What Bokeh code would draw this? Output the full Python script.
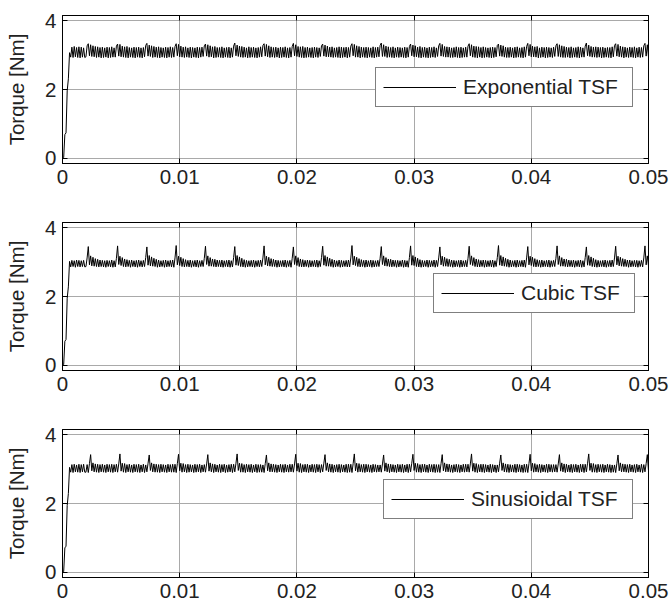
from bokeh.plotting import figure
from bokeh.layouts import column
from bokeh.models import FixedTicker, Range1d, LinearAxis, Legend, LegendItem
from bokeh.embed import file_html
from bokeh.resources import INLINE

# ---------------- data ----------------
dt = 0.0001  # sample spacing [s]
x_ticks = [0, 0.01, 0.02, 0.03, 0.04, 0.05]
x_tick_labels = ["0", "0.01", "0.02", "0.03", "0.04", "0.05"]
y_ticks = [0, 2, 4]
y_tick_labels = ["0", "2", "4"]
series_names = ["Exponential TSF", "Cubic TSF", "Sinusioidal TSF"]

exp_torque = [
    0.00, 0.02, 0.69, 0.74, 1.96, 2.31, 3.07, 2.94, 3.23, 2.93, 3.25, 2.95, 3.22, 2.93, 3.24, 2.92, 3.23, 2.94, 3.21, 2.93,
    2.95, 3.27, 3.33, 2.98, 3.30, 2.96, 3.27, 2.95, 3.25, 2.93, 3.24, 2.94, 3.22, 2.92, 3.23, 2.93, 3.21, 2.94, 3.23, 2.92, 3.22, 2.93, 3.24, 2.94, 3.21,
    2.94, 3.26, 3.32, 2.97, 3.31, 2.95, 3.26, 2.94, 3.24, 2.93, 3.25, 2.92, 3.22, 2.94, 3.21, 2.93, 3.23, 2.92, 3.22, 2.94, 3.23, 2.93, 3.21, 2.92, 3.22,
    2.95, 3.28, 3.34, 2.97, 3.29, 2.96, 3.27, 2.93, 3.25, 2.94, 3.23, 2.93, 3.24, 2.92, 3.22, 2.94, 3.21, 2.93, 3.23, 2.92, 3.22, 2.94, 3.24, 2.93, 3.22,
    2.94, 3.25, 3.33, 2.98, 3.31, 2.95, 3.26, 2.94, 3.23, 2.93, 3.24, 2.94, 3.21, 2.93, 3.23, 2.92, 3.22, 2.94, 3.21, 2.93, 3.23, 2.92, 3.22, 2.94, 3.23,
    2.96, 3.27, 3.32, 2.97, 3.30, 2.94, 3.27, 2.95, 3.24, 2.92, 3.25, 2.93, 3.22, 2.94, 3.22, 2.93, 3.24, 2.92, 3.21, 2.94, 3.22, 2.93, 3.23, 2.92, 3.21,
    2.94, 3.26, 3.35, 2.98, 3.29, 2.96, 3.26, 2.94, 3.25, 2.93, 3.23, 2.94, 3.21, 2.92, 3.24, 2.93, 3.22, 2.94, 3.23, 2.93, 3.21, 2.92, 3.22, 2.94, 3.24,
    2.95, 3.28, 3.33, 2.97, 3.31, 2.95, 3.27, 2.93, 3.24, 2.94, 3.22, 2.93, 3.23, 2.94, 3.21, 2.92, 3.23, 2.93, 3.22, 2.94, 3.24, 2.93, 3.21, 2.92, 3.22,
    2.94, 3.25, 3.34, 2.98, 3.30, 2.96, 3.25, 2.94, 3.24, 2.93, 3.25, 2.92, 3.22, 2.93, 3.23, 2.94, 3.21, 2.93, 3.22, 2.92, 3.23, 2.94, 3.22, 2.93, 3.21,
    2.96, 3.27, 3.32, 2.97, 3.29, 2.95, 3.26, 2.95, 3.23, 2.94, 3.24, 2.93, 3.21, 2.94, 3.22, 2.93, 3.24, 2.92, 3.23, 2.93, 3.22, 2.94, 3.23, 2.92, 3.22,
    2.94, 3.26, 3.33, 2.98, 3.31, 2.94, 3.27, 2.94, 3.25, 2.92, 3.23, 2.94, 3.22, 2.93, 3.23, 2.92, 3.22, 2.94, 3.21, 2.93, 3.24, 2.92, 3.22, 2.94, 3.23,
    2.95, 3.28, 3.35, 2.96, 3.30, 2.96, 3.26, 2.93, 3.24, 2.94, 3.22, 2.93, 3.24, 2.92, 3.21, 2.94, 3.23, 2.93, 3.22, 2.94, 3.21, 2.93, 3.23, 2.92, 3.22,
    2.94, 3.25, 3.32, 2.98, 3.29, 2.95, 3.27, 2.95, 3.23, 2.93, 3.25, 2.92, 3.22, 2.94, 3.23, 2.93, 3.21, 2.92, 3.23, 2.93, 3.22, 2.94, 3.24, 2.93, 3.21,
    2.96, 3.27, 3.34, 2.97, 3.31, 2.96, 3.25, 2.94, 3.24, 2.94, 3.23, 2.93, 3.21, 2.93, 3.22, 2.94, 3.24, 2.93, 3.22, 2.92, 3.23, 2.93, 3.21, 2.94, 3.23,
    2.94, 3.26, 3.33, 2.98, 3.30, 2.94, 3.26, 2.93, 3.25, 2.92, 3.24, 2.94, 3.22, 2.92, 3.24, 2.93, 3.22, 2.94, 3.21, 2.93, 3.22, 2.92, 3.23, 2.93, 3.22,
    2.95, 3.28, 3.32, 2.97, 3.29, 2.96, 3.27, 2.94, 3.23, 2.93, 3.22, 2.93, 3.23, 2.94, 3.21, 2.92, 3.23, 2.93, 3.24, 2.94, 3.21, 2.93, 3.22, 2.92, 3.24,
    2.94, 3.25, 3.34, 2.98, 3.31, 2.95, 3.26, 2.95, 3.24, 2.94, 3.25, 2.92, 3.21, 2.93, 3.23, 2.94, 3.22, 2.92, 3.23, 2.93, 3.22, 2.94, 3.21, 2.93, 3.23,
    2.96, 3.27, 3.33, 2.96, 3.30, 2.94, 3.27, 2.93, 3.25, 2.93, 3.23, 2.94, 3.22, 2.92, 3.24, 2.93, 3.21, 2.94, 3.22, 2.93, 3.24, 2.92, 3.23, 2.94, 3.21,
    2.94, 3.26, 3.35, 2.98, 3.29, 2.96, 3.25, 2.94, 3.23, 2.94, 3.24, 2.93, 3.23, 2.94, 3.22, 2.92, 3.23, 2.93, 3.21, 2.94, 3.22, 2.93, 3.22, 2.92, 3.24,
    2.95, 3.28, 3.33, 2.97, 3.31, 2.95, 3.26, 2.94, 3.24, 2.92, 3.23, 2.94, 3.21, 2.93, 3.23, 2.94, 3.22, 2.93, 3.24, 2.92, 3.21, 2.94, 3.23, 2.93, 3.22,
    2.94, 3.27, 3.34, 2.97, 3.30, 2.95,
]

cubic_torque = [
    0.00, 0.02, 0.70, 0.75, 1.95, 2.28, 3.02, 2.86, 3.05, 2.87, 3.04, 2.85, 3.06, 2.87, 3.05, 2.86, 3.04, 2.87, 3.05, 2.86,
    2.87, 3.12, 3.45, 2.92, 3.18, 2.89, 3.14, 2.88, 3.10, 2.87, 3.08, 2.86, 3.06, 2.87, 3.05, 2.86, 3.04, 2.85, 3.05, 2.87, 3.04, 2.86, 3.06, 2.85, 3.04,
    2.86, 3.11, 3.47, 2.93, 3.17, 2.90, 3.13, 2.87, 3.09, 2.86, 3.07, 2.87, 3.05, 2.85, 3.06, 2.87, 3.04, 2.86, 3.05, 2.85, 3.06, 2.87, 3.04, 2.86, 3.05,
    2.87, 3.13, 3.44, 2.91, 3.19, 2.89, 3.15, 2.88, 3.11, 2.87, 3.08, 2.85, 3.06, 2.86, 3.04, 2.87, 3.05, 2.85, 3.06, 2.86, 3.04, 2.87, 3.05, 2.86, 3.06,
    2.85, 3.12, 3.48, 2.92, 3.17, 2.90, 3.14, 2.87, 3.10, 2.86, 3.07, 2.87, 3.05, 2.86, 3.06, 2.85, 3.04, 2.87, 3.05, 2.86, 3.06, 2.85, 3.04, 2.87, 3.05,
    2.87, 3.11, 3.46, 2.93, 3.18, 2.88, 3.13, 2.88, 3.09, 2.87, 3.08, 2.86, 3.06, 2.87, 3.05, 2.86, 3.06, 2.85, 3.04, 2.87, 3.05, 2.86, 3.06, 2.85, 3.04,
    2.86, 3.13, 3.45, 2.91, 3.19, 2.90, 3.15, 2.87, 3.11, 2.86, 3.07, 2.85, 3.05, 2.86, 3.04, 2.87, 3.05, 2.86, 3.06, 2.85, 3.04, 2.87, 3.05, 2.86, 3.06,
    2.87, 3.12, 3.47, 2.92, 3.17, 2.89, 3.14, 2.88, 3.10, 2.87, 3.08, 2.87, 3.06, 2.85, 3.05, 2.86, 3.04, 2.87, 3.05, 2.86, 3.06, 2.85, 3.04, 2.87, 3.05,
    2.85, 3.11, 3.44, 2.93, 3.18, 2.90, 3.13, 2.87, 3.09, 2.86, 3.07, 2.86, 3.05, 2.87, 3.06, 2.85, 3.05, 2.86, 3.04, 2.87, 3.05, 2.86, 3.06, 2.85, 3.04,
    2.87, 3.13, 3.46, 2.91, 3.19, 2.88, 3.15, 2.88, 3.11, 2.87, 3.08, 2.85, 3.06, 2.86, 3.04, 2.87, 3.06, 2.85, 3.05, 2.86, 3.04, 2.87, 3.05, 2.86, 3.06,
    2.86, 3.12, 3.48, 2.92, 3.17, 2.90, 3.14, 2.87, 3.10, 2.86, 3.07, 2.87, 3.05, 2.85, 3.06, 2.86, 3.04, 2.87, 3.06, 2.85, 3.05, 2.86, 3.04, 2.87, 3.05,
    2.87, 3.11, 3.45, 2.93, 3.18, 2.89, 3.13, 2.88, 3.09, 2.87, 3.08, 2.86, 3.06, 2.87, 3.05, 2.85, 3.05, 2.86, 3.04, 2.87, 3.06, 2.85, 3.05, 2.86, 3.04,
    2.85, 3.13, 3.47, 2.91, 3.19, 2.90, 3.15, 2.87, 3.11, 2.86, 3.07, 2.85, 3.05, 2.86, 3.04, 2.87, 3.06, 2.85, 3.05, 2.86, 3.04, 2.87, 3.06, 2.85, 3.05,
    2.87, 3.12, 3.44, 2.92, 3.17, 2.88, 3.14, 2.88, 3.10, 2.87, 3.08, 2.87, 3.06, 2.85, 3.05, 2.86, 3.04, 2.87, 3.05, 2.85, 3.06, 2.86, 3.04, 2.87, 3.05,
    2.86, 3.11, 3.46, 2.93, 3.18, 2.90, 3.13, 2.87, 3.09, 2.86, 3.07, 2.86, 3.05, 2.87, 3.06, 2.85, 3.05, 2.86, 3.04, 2.87, 3.05, 2.86, 3.06, 2.85, 3.04,
    2.87, 3.13, 3.48, 2.91, 3.19, 2.89, 3.15, 2.88, 3.11, 2.87, 3.08, 2.85, 3.06, 2.86, 3.04, 2.87, 3.05, 2.85, 3.06, 2.86, 3.04, 2.87, 3.05, 2.86, 3.06,
    2.85, 3.12, 3.45, 2.92, 3.17, 2.90, 3.14, 2.87, 3.10, 2.86, 3.07, 2.87, 3.05, 2.85, 3.06, 2.86, 3.04, 2.87, 3.05, 2.86, 3.06, 2.85, 3.04, 2.87, 3.05,
    2.87, 3.11, 3.47, 2.93, 3.18, 2.88, 3.13, 2.88, 3.09, 2.87, 3.08, 2.86, 3.06, 2.87, 3.05, 2.86, 3.06, 2.85, 3.04, 2.87, 3.05, 2.86, 3.06, 2.85, 3.04,
    2.86, 3.13, 3.44, 2.91, 3.19, 2.90, 3.15, 2.87, 3.11, 2.86, 3.07, 2.85, 3.05, 2.86, 3.04, 2.87, 3.05, 2.86, 3.06, 2.85, 3.04, 2.87, 3.05, 2.86, 3.06,
    2.87, 3.12, 3.46, 2.92, 3.17, 2.89, 3.14, 2.88, 3.10, 2.87, 3.08, 2.87, 3.06, 2.85, 3.06, 2.86, 3.04, 2.87, 3.05, 2.86, 3.05, 2.85, 3.04, 2.87, 3.05,
    2.86, 3.12, 3.47, 2.92, 3.18, 2.89,
]

sin_torque = [
    0.00, 0.02, 0.71, 0.76, 1.94, 2.29, 3.05, 2.91, 3.13, 2.90, 3.14, 2.92, 3.12, 2.91, 3.14, 2.90, 3.13, 2.92, 3.14, 2.91,
    2.91, 3.13, 2.90, 3.16, 3.42, 2.95, 3.18, 2.92, 3.15, 2.91, 3.14, 2.90, 3.13, 2.92, 3.14, 2.91, 3.12, 2.90, 3.14, 2.92, 3.13, 2.91, 3.14, 2.90, 3.13,
    2.92, 3.14, 2.91, 3.15, 3.44, 2.94, 3.17, 2.91, 3.16, 2.90, 3.13, 2.92, 3.14, 2.91, 3.12, 2.90, 3.14, 2.92, 3.13, 2.91, 3.14, 2.90, 3.12, 2.92, 3.14,
    2.90, 3.12, 2.92, 3.17, 3.41, 2.96, 3.18, 2.92, 3.15, 2.91, 3.14, 2.91, 3.13, 2.90, 3.14, 2.92, 3.13, 2.91, 3.12, 2.90, 3.14, 2.92, 3.13, 2.91, 3.14,
    2.91, 3.14, 2.90, 3.16, 3.43, 2.95, 3.17, 2.91, 3.16, 2.92, 3.13, 2.90, 3.14, 2.91, 3.13, 2.92, 3.12, 2.90, 3.14, 2.91, 3.13, 2.92, 3.14, 2.90, 3.12,
    2.92, 3.13, 2.91, 3.15, 3.42, 2.94, 3.18, 2.92, 3.15, 2.90, 3.14, 2.92, 3.12, 2.91, 3.14, 2.90, 3.13, 2.92, 3.14, 2.90, 3.12, 2.91, 3.13, 2.92, 3.14,
    2.90, 3.14, 2.92, 3.17, 3.44, 2.96, 3.17, 2.91, 3.16, 2.91, 3.13, 2.90, 3.14, 2.92, 3.13, 2.91, 3.14, 2.90, 3.12, 2.92, 3.14, 2.90, 3.13, 2.91, 3.13,
    2.91, 3.12, 2.90, 3.16, 3.41, 2.95, 3.18, 2.92, 3.15, 2.92, 3.14, 2.91, 3.13, 2.90, 3.12, 2.92, 3.14, 2.91, 3.13, 2.90, 3.14, 2.92, 3.12, 2.91, 3.14,
    2.92, 3.14, 2.91, 3.15, 3.43, 2.94, 3.17, 2.91, 3.16, 2.90, 3.13, 2.92, 3.14, 2.91, 3.14, 2.90, 3.12, 2.92, 3.14, 2.91, 3.13, 2.90, 3.14, 2.92, 3.13,
    2.90, 3.13, 2.92, 3.17, 3.42, 2.96, 3.18, 2.92, 3.15, 2.91, 3.14, 2.90, 3.12, 2.92, 3.13, 2.91, 3.14, 2.90, 3.13, 2.92, 3.12, 2.91, 3.14, 2.90, 3.14,
    2.91, 3.14, 2.90, 3.16, 3.44, 2.95, 3.17, 2.91, 3.16, 2.92, 3.13, 2.91, 3.14, 2.90, 3.14, 2.92, 3.13, 2.91, 3.12, 2.90, 3.14, 2.92, 3.13, 2.91, 3.12,
    2.92, 3.12, 2.91, 3.15, 3.41, 2.94, 3.18, 2.92, 3.15, 2.90, 3.14, 2.92, 3.13, 2.91, 3.12, 2.90, 3.14, 2.92, 3.13, 2.91, 3.14, 2.90, 3.12, 2.92, 3.14,
    2.90, 3.14, 2.92, 3.17, 3.43, 2.96, 3.17, 2.91, 3.16, 2.91, 3.13, 2.90, 3.14, 2.92, 3.14, 2.91, 3.12, 2.90, 3.14, 2.92, 3.13, 2.91, 3.14, 2.90, 3.13,
    2.91, 3.13, 2.90, 3.16, 3.42, 2.95, 3.18, 2.92, 3.15, 2.92, 3.14, 2.91, 3.12, 2.90, 3.13, 2.92, 3.14, 2.91, 3.13, 2.90, 3.12, 2.92, 3.14, 2.91, 3.14,
    2.92, 3.14, 2.91, 3.15, 3.44, 2.94, 3.17, 2.91, 3.16, 2.90, 3.13, 2.92, 3.14, 2.91, 3.14, 2.90, 3.13, 2.92, 3.12, 2.91, 3.14, 2.90, 3.13, 2.92, 3.12,
    2.90, 3.12, 2.92, 3.17, 3.41, 2.96, 3.18, 2.92, 3.15, 2.91, 3.14, 2.90, 3.13, 2.92, 3.12, 2.91, 3.14, 2.90, 3.14, 2.92, 3.13, 2.91, 3.12, 2.90, 3.14,
    2.91, 3.14, 2.90, 3.16, 3.43, 2.95, 3.17, 2.91, 3.16, 2.92, 3.13, 2.91, 3.14, 2.90, 3.13, 2.92, 3.12, 2.91, 3.14, 2.90, 3.14, 2.92, 3.13, 2.91, 3.13,
    2.92, 3.13, 2.91, 3.15, 3.42, 2.94, 3.18, 2.92, 3.15, 2.90, 3.14, 2.92, 3.12, 2.91, 3.14, 2.90, 3.13, 2.92, 3.14, 2.91, 3.12, 2.90, 3.14, 2.92, 3.14,
    2.90, 3.14, 2.92, 3.17, 3.44, 2.96, 3.17, 2.91, 3.16, 2.91, 3.13, 2.90, 3.14, 2.92, 3.13, 2.91, 3.14, 2.90, 3.12, 2.92, 3.14, 2.91, 3.13, 2.90, 3.12,
    2.91, 3.12, 2.90, 3.16, 3.41, 2.95, 3.18, 2.92, 3.15, 2.92, 3.14, 2.91, 3.13, 2.90, 3.14, 2.92, 3.12, 2.91, 3.13, 2.90, 3.14, 2.92, 3.12, 2.91, 3.14,
    2.90, 3.13, 2.92, 3.16, 3.42, 2.95,
]

# ---------------- styling ----------------
FONT = "Liberation Sans"
TXT = "#222222"


def make_panel(values, name, height, border_bottom, legend_xy, label_width):
    n = len(values)
    t = [i * dt for i in range(n)]
    p = figure(width=671, height=height, output_backend="svg", toolbar_location=None,
               x_range=Range1d(0, 0.05), y_range=Range1d(-0.15, 4.15),
               min_border_left=62, min_border_right=23, min_border_top=15,
               min_border_bottom=border_bottom, background_fill_color="white",
               border_fill_color="white", outline_line_color="black",
               outline_line_width=1)
    r = p.line(t, values, line_color="black", line_width=1)

    # main axes
    p.xaxis.ticker = FixedTicker(ticks=x_ticks)
    p.xaxis.major_label_overrides = {k: v for k, v in zip(x_ticks, x_tick_labels)}
    p.yaxis.ticker = FixedTicker(ticks=y_ticks)
    p.yaxis.major_label_overrides = {k: v for k, v in zip(y_ticks, y_tick_labels)}
    p.yaxis.axis_label = "Torque [Nm]"
    for ax in (p.xaxis[0], p.yaxis[0]):
        ax.axis_line_color = "black"
        ax.major_tick_in = 5
        ax.major_tick_out = 0
        ax.minor_tick_line_color = None
        ax.major_label_text_font = FONT
        ax.major_label_text_font_size = "20.5px"
        ax.major_label_text_color = TXT
        ax.major_label_standoff = 6
    p.yaxis.axis_label_text_font = FONT
    p.yaxis.axis_label_text_font_size = "20.5px"
    p.yaxis.axis_label_text_font_style = "normal"
    p.yaxis.axis_label_text_color = TXT
    p.yaxis.axis_label_standoff = 14

    # mirrored tick marks on top and right (MATLAB box style)
    top = LinearAxis(ticker=FixedTicker(ticks=x_ticks), major_tick_in=5, major_tick_out=0,
                     minor_tick_line_color=None, major_label_text_font_size="0px",
                     axis_line_color="black", major_label_standoff=0)
    right = LinearAxis(ticker=FixedTicker(ticks=y_ticks), major_tick_in=5, major_tick_out=0,
                       minor_tick_line_color=None, major_label_text_font_size="0px",
                       axis_line_color="black", major_label_standoff=0)
    p.add_layout(top, "above")
    p.add_layout(right, "right")

    # grid
    p.xgrid.grid_line_color = "#a9a9a9"
    p.ygrid.grid_line_color = "#a9a9a9"
    p.xgrid.grid_line_width = 1
    p.ygrid.grid_line_width = 1

    legend = Legend(items=[LegendItem(label=name, renderers=[r])], location=legend_xy,
                    orientation="vertical", border_line_color="black", border_line_width=1,
                    background_fill_color="white", background_fill_alpha=1.0,
                    label_text_font=FONT, label_text_font_size="21px", label_text_color=TXT,
                    glyph_width=73, glyph_height=20, label_standoff=7, padding=7,
                    margin=0, spacing=0, label_width=label_width)
    p.add_layout(legend, "center")
    return p


p1 = make_panel(exp_torque, series_names[0], 207, 44, (313, 56), 162)
p2 = make_panel(cubic_torque, series_names[1], 207, 44, (371, 57), 106)
p3 = make_panel(sin_torque, series_names[2], 196, 33, (321, 58), 154)

layout = column(p1, p2, p3, spacing=0)

open("out.html", "w").write(file_html(layout, INLINE))
